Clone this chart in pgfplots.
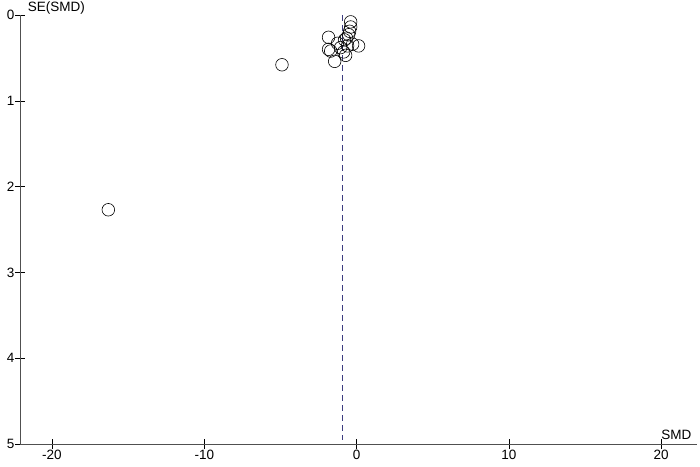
\documentclass[border=0pt]{standalone}
\usepackage{fontspec}
\setmainfont{Liberation Sans}
\usepackage{pgfplots}
\pgfplotsset{compat=1.18}
\definecolor{navyline}{HTML}{3C3C80}
\definecolor{axisgray}{HTML}{505050}

\begin{document}
\begin{tikzpicture}[font=\fontsize{13.5bp}{15bp}\selectfont]
\begin{axis}[
  scale only axis,
  width=677bp, height=429bp,
  xmin=-22.1, xmax=22.35,
  ymin=0, ymax=5,
  y dir=reverse,
  axis x line=bottom,
  axis y line=left,
  axis line style={axisgray, -, line width=0.8pt},
  xtick={-20,-10,0,10,20},
  ytick={0,1,2,3,4,5},
  tick align=center,
  major tick length=10bp,
  tick style={black, line width=0.6pt},
  /pgf/number format/assume math mode=true,
  xticklabel style={yshift=2bp},
  yticklabel style={xshift=3bp},
  clip=false,
]
% dashed line at overall estimate
\addplot[navyline, line width=1pt, dash pattern=on 6bp off 4bp] coordinates {(-0.92,0) (-0.92,4.95)};

% studies
\addplot[only marks, mark=o, mark size=6.3bp, black, line width=0.6pt] coordinates {
  (-0.39,0.08) (-0.39,0.14) (-0.46,0.19) (-0.52,0.23) (-1.84,0.26)
  (-0.66,0.27) (-0.79,0.29) (-1.25,0.33) (0.13,0.36) (-0.26,0.34)
  (-1.84,0.40) (-1.70,0.42) (-1.05,0.38) (-0.59,0.36) (-0.85,0.43)
  (-0.72,0.47) (-1.44,0.54) (-4.90,0.58) (-16.3,2.27)
};

\node[anchor=base west, inner sep=0pt] at (axis cs:-21.6,-0.04) {SE(SMD)};
\node[anchor=base west, inner sep=0pt] at (axis cs:20,4.95) {SMD};
\end{axis}
\pgfresetboundingbox
\path (-20bp,-23bp) rectangle (680bp,444bp);
\end{tikzpicture}
\end{document}
